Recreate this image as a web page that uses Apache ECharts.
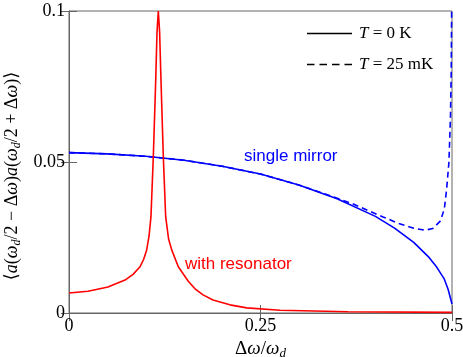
<!DOCTYPE html>
<html>
<head>
<meta charset="utf-8">
<script src="https://cdn.jsdelivr.net/npm/echarts@6/dist/echarts.min.js"></script>
<style>
  html, body { margin: 0; padding: 0; background: #fff; }
  #main-chart { width: 463px; height: 357px; }
</style>
</head>
<body>
<div id="main-chart"></div>
<script>
const chartDiv = 'main-chart';

// single mirror, T = 0 K
const mirrorX = [0, 0.05, 0.1, 0.15, 0.2, 0.25, 0.3, 0.35, 0.4, 0.425, 0.45, 0.47, 0.48, 0.49, 0.495, 0.5];
const mirrorT0 = [0.0531, 0.0527, 0.0519, 0.0506, 0.0486, 0.0460, 0.0424, 0.0378, 0.0320, 0.0281, 0.0234, 0.0184, 0.0152, 0.0112, 0.0078, 0.0030];

// single mirror, T = 25 mK
const mirrorWarmX = [0, 0.05, 0.1, 0.15, 0.2, 0.25, 0.3, 0.35, 0.37, 0.39, 0.41, 0.43, 0.45, 0.465, 0.475, 0.485, 0.49, 0.493, 0.496, 0.498, 0.499, 0.4995];
const mirrorT25 = [0.0531, 0.0527, 0.0519, 0.0506, 0.0486, 0.0460, 0.0424, 0.0380, 0.0362, 0.0340, 0.0318, 0.0297, 0.0281, 0.0274, 0.0280, 0.0305, 0.0345, 0.0410, 0.0500, 0.0650, 0.0800, 0.1];

// with resonator
const resX = [0, 0.0248, 0.0509, 0.0731, 0.0836, 0.0927, 0.0975, 0.1014, 0.1045, 0.107, 0.1101, 0.1132, 0.1149, 0.1166,
  0.1183, 0.1201, 0.1231, 0.1262, 0.13, 0.1341, 0.1427, 0.1557, 0.1645, 0.175, 0.188, 0.21, 0.232, 0.2755, 0.3642, 0.5];
const resY = [0.0066, 0.0072, 0.0086, 0.0109, 0.0128, 0.0153, 0.0178, 0.0209, 0.0255, 0.0319, 0.052, 0.077, 0.093, 0.1,
  0.093, 0.077, 0.052, 0.0319, 0.0245, 0.0209, 0.0153, 0.0105, 0.0080, 0.0060, 0.0043, 0.0027, 0.0017, 0.0009, 0.0004, 0.0002];

const xTicks = ['0', '0.25', '0.5'];
const yTicks = ['0', '0.05', '0.1'];

function zip(xs, ys) {
    return xs.map(function (x, i) {
        return [x, ys[i]];
    });
}

const axisGray = '#666';
const serif = '"Liberation Serif", "DejaVu Serif", serif';
const sans = '"Liberation Sans", Arial, sans-serif';

let mainChart = echarts.init(document.getElementById(chartDiv), null, {renderer: 'canvas'});

const legendNames = {
    'T0': '{i|T} = 0 K',
    'T25': '{i|T} = 25 mK'
};
// legend icons: thin solid bar and four short dashes
const solidIcon = 'path://M0,0h45v1.6h-45z';
const dashIcon = 'path://M0,0h7.5v1.6h-7.5z M12.5,0h7.5v1.6h-7.5z M25,0h7.5v1.6h-7.5z M37.5,0h7.5v1.6h-7.5z';

const option = {
    animation: false,
    grid: {
        left: 69, right: 11, top: 11, bottom: 44,
        show: true, borderColor: axisGray, borderWidth: 1,
        outerBoundsMode: 'none', containLabel: false
    },
    legend: {
        orient: 'vertical',
        left: 302,
        top: 20,
        itemWidth: 45,
        itemHeight: 14,
        itemGap: 14,
        data: [
            {name: 'T0', icon: solidIcon, itemStyle: {color: '#000'}},
            {name: 'T25', icon: dashIcon, itemStyle: {color: '#000'}}
        ],
        formatter: function (name) {
            return legendNames[name];
        },
        textStyle: {
            fontFamily: serif,
            fontSize: 17,
            color: '#000',
            padding: [0, 0, 0, 2],
            rich: {i: {fontFamily: serif, fontStyle: 'italic', fontSize: 17, color: '#000'}}
        }
    },
    xAxis: [{
        type: 'value',
        min: 0,
        max: 0.5,
        interval: 0.25,
        name: '{d|Δ}{w|ω}{d|/}{w|ω}{s|d}',
        nameLocation: 'middle',
        nameGap: 24,
        nameTextStyle: {
            rich: {
                d: {fontFamily: serif, fontSize: 19, color: '#000'},
                w: {fontFamily: serif, fontSize: 19, fontStyle: 'italic', color: '#000'},
                s: {fontFamily: serif, fontSize: 13, fontStyle: 'italic', color: '#000', verticalAlign: 'bottom', padding: [8, 0, 0, 0]}
            }
        },
        axisLine: {lineStyle: {color: axisGray}},
        axisTick: {inside: true, length: 8, lineStyle: {color: axisGray}},
        splitLine: {show: false},
        axisLabel: {
            fontFamily: serif, fontSize: 18, color: '#000', margin: 4,
            formatter: function (v) {
                return xTicks[Math.round(v / 0.25)];
            }
        }
    }, {
        type: 'value',
        position: 'top',
        min: 0,
        max: 0.5,
        interval: 0.25,
        axisLine: {lineStyle: {color: axisGray}},
        axisTick: {inside: true, length: 8, lineStyle: {color: axisGray}},
        axisLabel: {show: false},
        splitLine: {show: false}
    }],
    yAxis: [{
        type: 'value',
        min: 0,
        max: 0.1,
        interval: 0.05,
        name: '⟨{w|a}({w|ω}{s|d}/2 − Δ{w|ω}){w|a}({w|ω}{s|d}/2 + Δ{w|ω})⟩',
        nameLocation: 'middle',
        nameRotate: 90,
        nameGap: 46,
        nameTextStyle: {
            fontFamily: serif,
            fontSize: 18,
            color: '#000',
            padding: [0, 28, 0, 0],
            rich: {
                w: {fontFamily: serif, fontSize: 18, fontStyle: 'italic', color: '#000'},
                s: {fontFamily: serif, fontSize: 12, fontStyle: 'italic', color: '#000', padding: [8, 0, 0, 0]}
            }
        },
        axisLine: {lineStyle: {color: axisGray}},
        axisTick: {inside: true, length: 8, lineStyle: {color: axisGray}},
        splitLine: {show: false},
        axisLabel: {
            fontFamily: serif, fontSize: 18, color: '#000', margin: 4,
            formatter: function (v) {
                return yTicks[Math.round(v / 0.05)];
            }
        }
    }, {
        type: 'value',
        position: 'right',
        min: 0,
        max: 0.1,
        interval: 0.05,
        axisLine: {lineStyle: {color: axisGray}},
        axisTick: {inside: true, length: 8, lineStyle: {color: axisGray}},
        axisLabel: {show: false},
        splitLine: {show: false}
    }],
    series: [
        // empty black series only feed the legend
        {name: 'T0', type: 'line', data: [], symbol: 'none', lineStyle: {color: '#000'}, itemStyle: {color: '#000'}},
        {name: 'T25', type: 'line', data: [], symbol: 'none', lineStyle: {color: '#000', type: 'dashed'}, itemStyle: {color: '#000'}},
        {
            name: 'mirror 25mK',
            type: 'line',
            data: zip(mirrorWarmX, mirrorT25),
            symbol: 'none',
            lineStyle: {color: '#0000ff', width: 1.6, type: [6, 4]},
            z: 2
        },
        {
            name: 'mirror 0K',
            type: 'line',
            data: zip(mirrorX, mirrorT0),
            symbol: 'none',
            lineStyle: {color: '#0000ff', width: 1.6},
            z: 3
        },
        {
            name: 'resonator',
            type: 'line',
            data: zip(resX, resY),
            symbol: 'none',
            lineStyle: {color: '#ff0000', width: 1.6},
            z: 4
        }
    ],
    graphic: [
        {type: 'text', left: 244, top: 148, style: {text: 'single mirror', fill: '#0000ff', font: '17px ' + sans}},
        {type: 'text', left: 185, top: 256, style: {text: 'with resonator', fill: '#ff0000', font: '17px ' + sans}}
    ]
};

mainChart.setOption(option);
</script>
</body>
</html>
